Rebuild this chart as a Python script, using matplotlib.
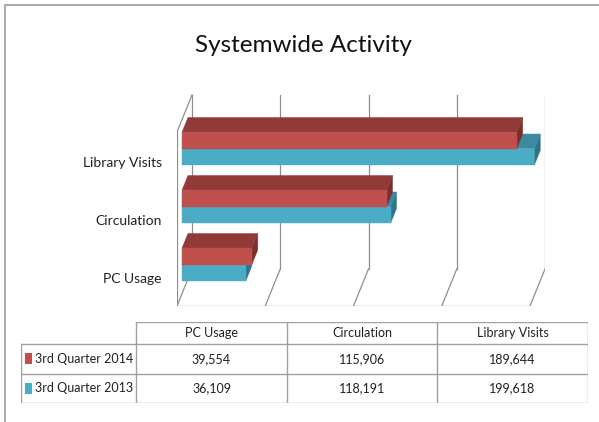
import matplotlib.pyplot as plt
from matplotlib.patches import Polygon, Rectangle
from matplotlib.lines import Line2D

# data
categories = ["PC Usage", "Circulation", "Library Visits"]
series_names = ["3rd Quarter 2014", "3rd Quarter 2013"]
q3_2014 = [39554, 115906, 189644]
q3_2013 = [36109, 118191, 199618]
grid_values = [0, 50000, 100000, 150000, 200000]

red = dict(front="#C0504D", top="#923A38", side="#7E2F2D")
blue = dict(front="#4BACC6", top="#3A8BA1", side="#2F7488")

plt.rcParams["font.family"] = ["Lato", "DejaVu Sans"]

W, H = 599, 422
fig = plt.figure(figsize=(W / 100, H / 100), dpi=100)

# fake 3d geometry (depth offsets)
px = 200000 / 353.0          # value units per pixel
DX = 15 * px                  # depth offset in x (value units)
DY = 37                       # depth offset in y
slot = 58                     # height of one category slot
thick = 16.5                  # bar thickness
z0, z1 = 1 / 3, 0.73          # bar depth range
wall = slot * len(categories)


def proj(v, z, h):
    return v + z * DX, h + z * DY


ax = fig.add_axes([177 / W, (H - 306) / H, 368 / W, 213 / H])
ax.set_xlim(0, 368 * px)
ax.set_ylim(0, 213)
ax.axis("off")

gc = "#8E8E8E"
# back wall + floor grid
for g in grid_values:
    bx, by = proj(g, 1, 0)
    tx, ty = proj(g, 1, wall)
    ax.plot([bx, tx], [by, ty], color=gc, lw=0.9, zorder=1)
    ax.plot([g, bx], [0, by], color=gc, lw=0.9, zorder=1)
ax.plot([0, grid_values[-1]], [0, 0], color=gc, lw=0.9, zorder=1)
# left wall
ax.plot([0, 0], [0, wall], color=gc, lw=0.9, zorder=1)
tx, ty = proj(0, 1, wall)
ax.plot([0, tx], [wall, ty], color=gc, lw=0.9, zorder=1)


def bar3d(v, h0, h1, col):
    front = [proj(0, z0, h0), proj(v, z0, h0), proj(v, z0, h1), proj(0, z0, h1)]
    top = [proj(0, z0, h1), proj(v, z0, h1), proj(v, z1, h1), proj(0, z1, h1)]
    side = [proj(v, z0, h0), proj(v, z1, h0), proj(v, z1, h1), proj(v, z0, h1)]
    for pts, c in ((side, col["side"]), (top, col["top"]), (front, col["front"])):
        ax.add_patch(Polygon(pts, closed=True, facecolor=c, edgecolor=c,
                             lw=0.3, zorder=2))


for i, cat in enumerate(categories):
    c = slot * (i + 0.5)
    bar3d(q3_2013[i], c - thick, c, blue)
    bar3d(q3_2014[i], c, c + thick, red)
    ax.annotate(cat, xy=(0, c), xytext=(-11, -1.5), textcoords="offset points",
                ha="right", va="center", fontsize=10, color="#202020")

fig.text(303 / W, 1 - 46 / H, "Systemwide Activity", ha="center", va="center",
         fontsize=17.5, color="#111111")

# data table below
col_w = [115, 151, 150, 151]
row_h = [22, 29.5, 29.5]
tab = fig.add_axes([21 / W, (H - 403) / H, sum(col_w) / W, sum(row_h) / H])
tab.set_xlim(0, sum(col_w))
tab.set_ylim(sum(row_h), 0)
tab.axis("off")
lc = "#A0A0A0"
xs = [sum(col_w[:k]) for k in range(len(col_w) + 1)]
ys = [sum(row_h[:k]) for k in range(len(row_h) + 1)]
tab.plot([xs[1], xs[-1]], [ys[0], ys[0]], color=lc, lw=1)
for y in ys[1:]:
    tab.plot([xs[0], xs[-1]], [y, y], color=lc, lw=1)
tab.plot([xs[0], xs[0]], [ys[1], ys[-1]], color=lc, lw=1)
for x in xs[1:]:
    tab.plot([x, x], [ys[0], ys[-1]], color=lc, lw=1)
for j, cat in enumerate(categories):
    xc = (xs[j + 1] + xs[j + 2]) / 2
    tab.text(xc, row_h[0] / 2, cat, ha="center", va="center", fontsize=9,
             color="#202020")
rows = [(series_names[0], q3_2014, red), (series_names[1], q3_2013, blue)]
for r, (name, vals, col) in enumerate(rows):
    yc = (ys[r + 1] + ys[r + 2]) / 2
    tab.add_patch(Rectangle((4, yc - 5.5), 7, 11, facecolor=col["front"],
                            edgecolor="none"))
    tab.text(14, yc, name, ha="left", va="center", fontsize=9, color="#202020")
    for j, v in enumerate(vals):
        xc = (xs[j + 1] + xs[j + 2]) / 2
        tab.text(xc, yc, f"{v:,}", ha="center", va="center", fontsize=9,
                 color="#202020")

# outer frame
fc = "#A8A8A8"
fig.add_artist(Line2D([5 / W, 1], [1 - 5 / H, 1 - 5 / H], color=fc, lw=1.4))
fig.add_artist(Line2D([5 / W, 5 / W], [1 - 5 / H, 0], color=fc, lw=1.4))

fig.savefig("out.png", dpi=100)
